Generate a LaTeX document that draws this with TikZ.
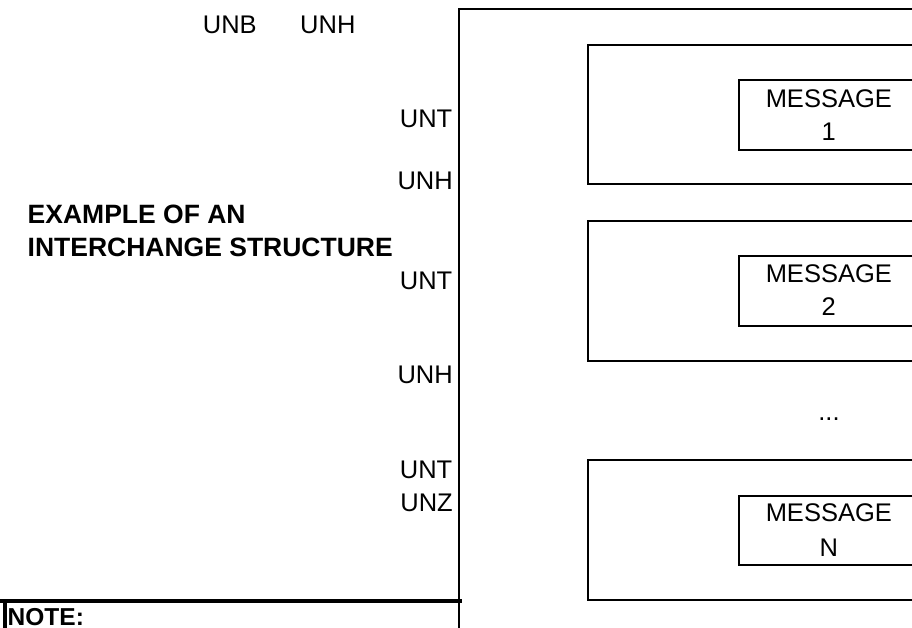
\documentclass[tikz,border=0pt]{standalone}
\usepackage{fontspec}
\setmainfont{Liberation Sans}
\begin{document}
\begin{tikzpicture}[x=1pt,y=-1pt,
  lbl/.style={inner sep=0pt, font=\fontsize{25.5}{30}\selectfont},
  ttl/.style={inner sep=0pt, font=\fontsize{26.5}{30}\selectfont\bfseries},
  notefont/.style={inner sep=0pt, font=\fontsize{24.5}{30}\selectfont\bfseries},
  boxline/.style={line width=2pt},
  thickline/.style={line width=4pt}]
\useasboundingbox (0,0) rectangle (912,628);
\clip (0,0) rectangle (912,628);
\fill[white] (0,0) rectangle (912,628);
% interchange box (open to the right and bottom)
\coordinate (ic) at (459,9);
\draw[boxline] (930,9) -- (ic) -- (459,640);
% message group boxes
\draw[boxline] (930,44.7) -- (587.7,44.7) -- (587.7,184.3) -- (930,184.3);
\draw[boxline] (930,80) -- (738.7,80) -- (738.7,149.7) -- (930,149.7);
\draw[boxline] (930,220.7) -- (587.7,220.7) -- (587.7,361) -- (930,361);
\draw[boxline] (930,255.7) -- (738.7,255.7) -- (738.7,326) -- (930,326);
\draw[boxline] (930,460) -- (587.7,460) -- (587.7,600.3) -- (930,600.3);
\draw[boxline] (930,496) -- (738.7,496) -- (738.7,564.7) -- (930,564.7);
% message texts
\node[lbl,anchor=base] (m1a) at (828.8,107.3) {MESSAGE};
\node[lbl,anchor=base] (m1b) at (828.8,140.7) {1};
\node[lbl,anchor=base] (m2a) at (828.8,282.3) {MESSAGE};
\node[lbl,anchor=base] (m2b) at (828.8,315.7) {2};
\node[lbl,anchor=base] (dots) at (829,420.7) {...};
\node[lbl,anchor=base] (mna) at (828.8,521.7) {MESSAGE};
\node[lbl,anchor=base] (mnb) at (828.8,556) {N};
% segment labels
\node[lbl,anchor=base west] (unb) at (202.7,33.3) {UNB};
\node[lbl,anchor=base west] (unh0) at (300,33.3) {UNH};
\node[lbl,anchor=base east] (unt1) at (452.5,127.3) {UNT};
\node[lbl,anchor=base east] (unh1) at (453,190) {UNH};
\node[lbl,anchor=base east] (unt2) at (452.5,289.3) {UNT};
\node[lbl,anchor=base east] (unh2) at (453,383.3) {UNH};
\node[lbl,anchor=base east] (untn) at (452.5,478.3) {UNT};
\node[lbl,anchor=base east] (unz) at (453,511) {UNZ};
% title
\node[ttl,anchor=base west] (t1) at (27.5,223.3) {EXAMPLE OF AN};
\node[ttl,anchor=base west] (t2) at (27.5,256) {INTERCHANGE STRUCTURE};
% note
\coordinate (nl) at (0,600.7);
\coordinate (nr) at (461.7,600.7);
\draw[thickline] (nl) -- (nr);
\draw[thickline] (5,600.7) -- (5,640);
\node[notefont,anchor=base west] (note) at (7.5,625) {NOTE:};
\end{tikzpicture}
\end{document}
